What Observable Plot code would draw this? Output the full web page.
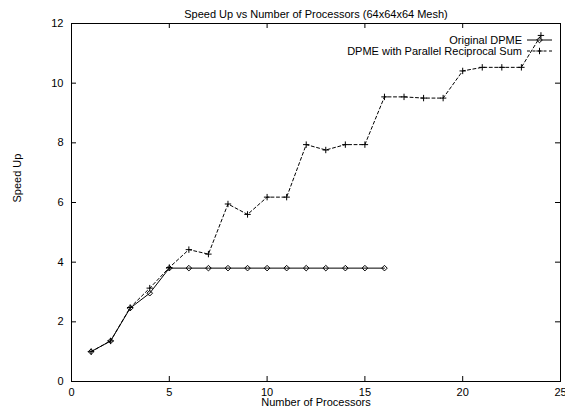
<!DOCTYPE html>
<html>
<head>
<meta charset="utf-8">
<script src="https://cdn.jsdelivr.net/npm/d3@7"></script>
<script src="https://cdn.jsdelivr.net/npm/@observablehq/plot@0.6"></script>
<style>
  html, body { margin: 0; padding: 0; background: #fff; }
  #chart svg { display: block; font-family: "Liberation Sans", Arial, Helvetica, sans-serif; }
</style>
</head>
<body>
<div id="chart"></div>
<script>
// Speed-up measurements for the 64x64x64 mesh
const originalProcessors = [1, 2, 3, 4, 5, 6, 7, 8, 9, 10, 11, 12, 13, 14, 15, 16];
const originalSpeedup = [1.00, 1.36, 2.46, 2.96, 3.80, 3.80, 3.80, 3.80, 3.80, 3.80, 3.80, 3.80, 3.80, 3.80, 3.80, 3.80];

const parallelProcessors = [1, 2, 3, 4, 5, 6, 7, 8, 9, 10, 11, 12, 13, 14, 15, 16, 17, 18, 19, 20, 21, 22, 23, 24];
const parallelSpeedup = [1.00, 1.36, 2.48, 3.13, 3.82, 4.42, 4.27, 5.95, 5.60, 6.18, 6.18, 7.94, 7.76, 7.94, 7.94,
  9.54, 9.54, 9.50, 9.50, 10.41, 10.53, 10.53, 10.53, 11.60];

const seriesNames = ["Original DPME", "DPME with Parallel Reciprocal Sum"];
const xTicks = [0, 5, 10, 15, 20, 25];
const yTicks = [0, 2, 4, 6, 8, 10, 12];

const original = originalProcessors.map((p, i) => ({p, s: originalSpeedup[i]}));
const parallel = parallelProcessors.map((p, i) => ({p, s: parallelSpeedup[i]}));

// thin "+" glyph drawn with strokes
const thinPlus = {
  draw(ctx, size) {
    const r = Math.sqrt(size / Math.PI);
    ctx.moveTo(-r, 0); ctx.lineTo(r, 0);
    ctx.moveTo(0, -r); ctx.lineTo(0, r);
  }
};
// square diamond (equal diagonals)
const openDiamond = {
  draw(ctx, size) {
    const r = Math.sqrt(size / Math.PI);
    ctx.moveTo(0, -r); ctx.lineTo(r, 0); ctx.lineTo(0, r); ctx.lineTo(-r, 0); ctx.closePath();
  }
};
const dash = "3,2.5";

const chart = Plot.plot({
  width: 565,
  height: 411,
  marginLeft: 71,
  marginRight: 5,
  marginTop: 23,
  marginBottom: 30,
  style: {fontSize: "11px", fontFamily: '"Liberation Sans", Arial, sans-serif', color: "black"},
  x: {domain: [0, 25], axis: null},
  y: {domain: [0, 12], axis: null},
  marks: [
    Plot.frame({stroke: "black", strokeWidth: 1}),
    // inward ticks, mirrored on all four sides
    Plot.ruleX(xTicks, {x: d => d, y1: 0, y2: 0, insetTop: -5, stroke: "black"}),
    Plot.ruleX(xTicks, {x: d => d, y1: 12, y2: 12, insetBottom: -5, stroke: "black"}),
    Plot.ruleY(yTicks, {y: d => d, x1: 0, x2: 0, insetRight: -5, stroke: "black"}),
    Plot.ruleY(yTicks, {y: d => d, x1: 25, x2: 25, insetLeft: -5, stroke: "black"}),
    Plot.text(xTicks, {x: d => d, y: 0, dy: 10.5, text: d => String(d), fill: "black"}),
    Plot.text(yTicks, {x: 0, y: d => d, dx: -8, textAnchor: "end", text: d => String(d), fill: "black"}),
    // series
    Plot.line(original, {x: "p", y: "s", stroke: "black", strokeWidth: 1}),
    Plot.dot(original, {x: "p", y: "s", symbol: openDiamond, r: 2.8, fill: "none", stroke: "black", strokeWidth: 1}),
    Plot.line(parallel, {x: "p", y: "s", stroke: "black", strokeWidth: 1, strokeDasharray: dash}),
    Plot.dot(parallel, {x: "p", y: "s", symbol: thinPlus, r: 3.2, fill: "none", stroke: "black", strokeWidth: 1}),
    // titles
    Plot.text(["Speed Up vs Number of Processors (64x64x64 Mesh)"], {frameAnchor: "top", dy: -13, fill: "black"}),
    Plot.text(["Number of Processors"], {frameAnchor: "bottom", dy: 24.5, fill: "black"}),
    Plot.text(["Speed Up"], {frameAnchor: "left", dx: -54, rotate: -90, fill: "black"})
  ]
});

// Legend: labels and line samples in the top-right corner
const svg = d3.select(chart);
const legend = svg.append("g").attr("font-size", 11).attr("fill", "black");
const legendRight = 522;
const rows = [40, 51];
seriesNames.forEach((name, i) => {
  legend.append("text")
    .attr("x", legendRight).attr("y", rows[i]).attr("dy", "0.32em")
    .attr("text-anchor", "end").text(name);
  legend.append("line")
    .attr("x1", 527).attr("x2", 552).attr("y1", rows[i]).attr("y2", rows[i])
    .attr("stroke", "black").attr("stroke-dasharray", i === 1 ? dash : null);
  const cx = 539.5, cy = rows[i];
  if (i === 0) {
    legend.append("path")
      .attr("d", `M${cx},${cy - 2.8}L${cx + 2.8},${cy}L${cx},${cy + 2.8}L${cx - 2.8},${cy}Z`)
      .attr("fill", "none").attr("stroke", "black");
  } else {
    legend.append("path")
      .attr("d", `M${cx - 3.2},${cy}H${cx + 3.2}M${cx},${cy - 3.2}V${cy + 3.2}`)
      .attr("fill", "none").attr("stroke", "black");
  }
});

document.getElementById("chart").appendChild(chart);
</script>
</body>
</html>
